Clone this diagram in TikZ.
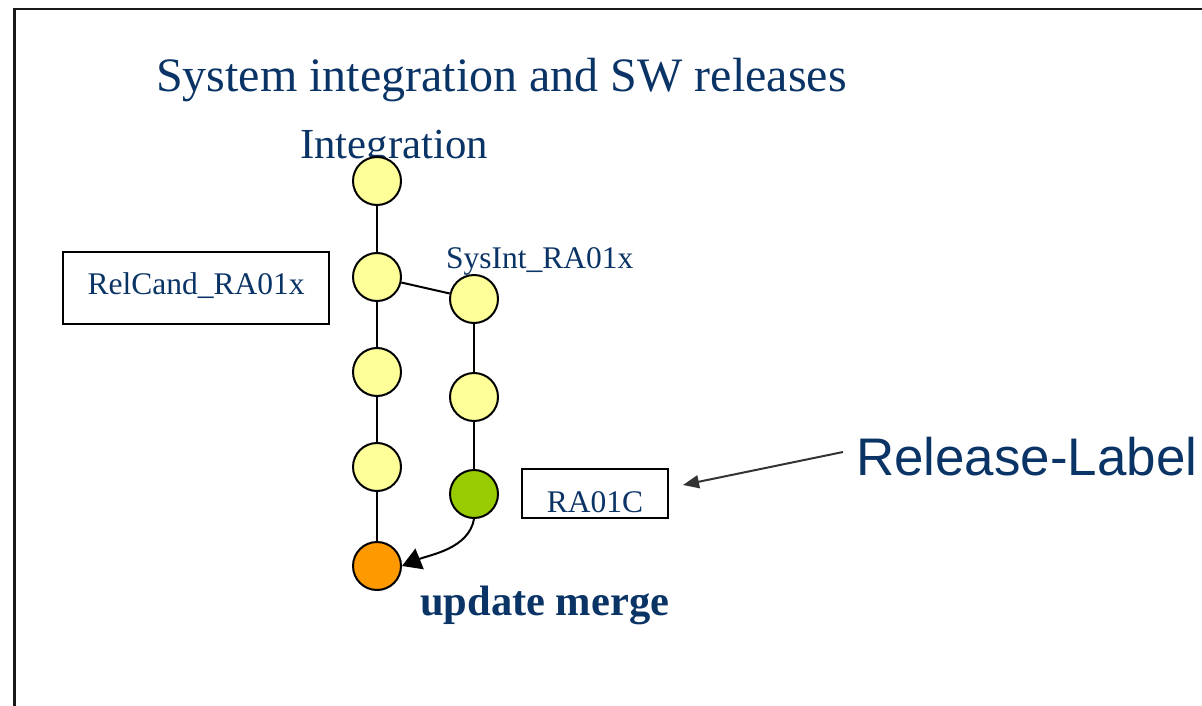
\documentclass[tikz,border=0pt]{standalone}
\usepackage{fontspec}
\setmainfont{Liberation Serif}
\newfontfamily\labelsans{Liberation Sans}
\usetikzlibrary{arrows.meta}
\definecolor{navy}{HTML}{0B3466}
\definecolor{commit}{HTML}{FFFF99}
\definecolor{release}{HTML}{99CC00}
\definecolor{merge}{HTML}{FF9900}
\definecolor{pointer}{HTML}{333333}
\tikzset{
  commitdot/.style={circle, draw=black, line width=2pt, minimum size=48pt, inner sep=0pt, fill=commit},
  branchline/.style={draw=black, line width=2pt},
  tagbox/.style={draw=black, line width=2pt, inner sep=0pt, text=navy,
    font=\fontsize{31.5}{34}\selectfont},
  caption/.style={inner sep=0pt, anchor=base west, text=navy},
}
\begin{document}
\begin{tikzpicture}[x=1pt, y=-1pt]
\useasboundingbox (0,0) rectangle (1202,706);
\fill[white] (0,0) rectangle (1202,706);
% slide frame
\draw[line width=2.5pt, color=black!90] (14.5,706) -- (14.5,9) -- (1202,9);

% headings
\node[caption, font=\fontsize{48}{52}\selectfont] (title) at (156,92) {System integration and SW releases};
\node[caption, font=\fontsize{42.8}{46}\selectfont] (integ) at (300,158) {Integration};
\node[caption, font=\fontsize{31.5}{34}\selectfont] (sysint) at (446,268) {SysInt\_RA01x};

% main integration line
\node[commitdot] (m1) at (377,181) {};
\node[commitdot] (m2) at (377,277) {};
\node[commitdot] (m3) at (377,372) {};
\node[commitdot] (m4) at (377,467) {};
\node[commitdot, fill=merge] (m5) at (377,566) {};

% system integration branch
\node[commitdot] (s1) at (474,299) {};
\node[commitdot] (s2) at (474,397) {};
\node[commitdot, fill=release] (s3) at (474,494) {};

\draw[branchline] (m1) -- (m2);
\draw[branchline] (m2) -- (s1);
\draw[branchline] (m2) -- (m3);
\draw[branchline] (m3) -- (m4);
\draw[branchline] (m4) -- (m5);
\draw[branchline] (s1) -- (s2);
\draw[branchline] (s2) -- (s3);
\draw[branchline, -{Triangle[length=19pt, width=22pt]}] (s3.south) to[out=-100, in=22, looseness=0.9] (m5.east);

% label boxes
\node[tagbox, minimum width=266pt, minimum height=72pt, text height=22pt, text depth=10pt] (relcand) at (196,288) {RelCand\_RA01x};
\node[tagbox, minimum width=146pt, minimum height=49pt, text height=38pt, text depth=0pt] (ra) at (595,493) {RA01C};

\node[caption, font=\fontsize{42.5}{46}\selectfont\bfseries] (upd) at (420,615) {update merge};

% release label pointer
\node[caption, font=\labelsans\fontsize{52.9}{56}\selectfont] (rl) at (856,475) {Release-Label};
\coordinate (rlfrom) at (843,452);
\coordinate (rlto) at (683,485);
\draw[line width=2pt, color=pointer, -{Triangle[length=16pt, width=13pt]}] (rlfrom) -- (rlto);
\end{tikzpicture}
\end{document}
